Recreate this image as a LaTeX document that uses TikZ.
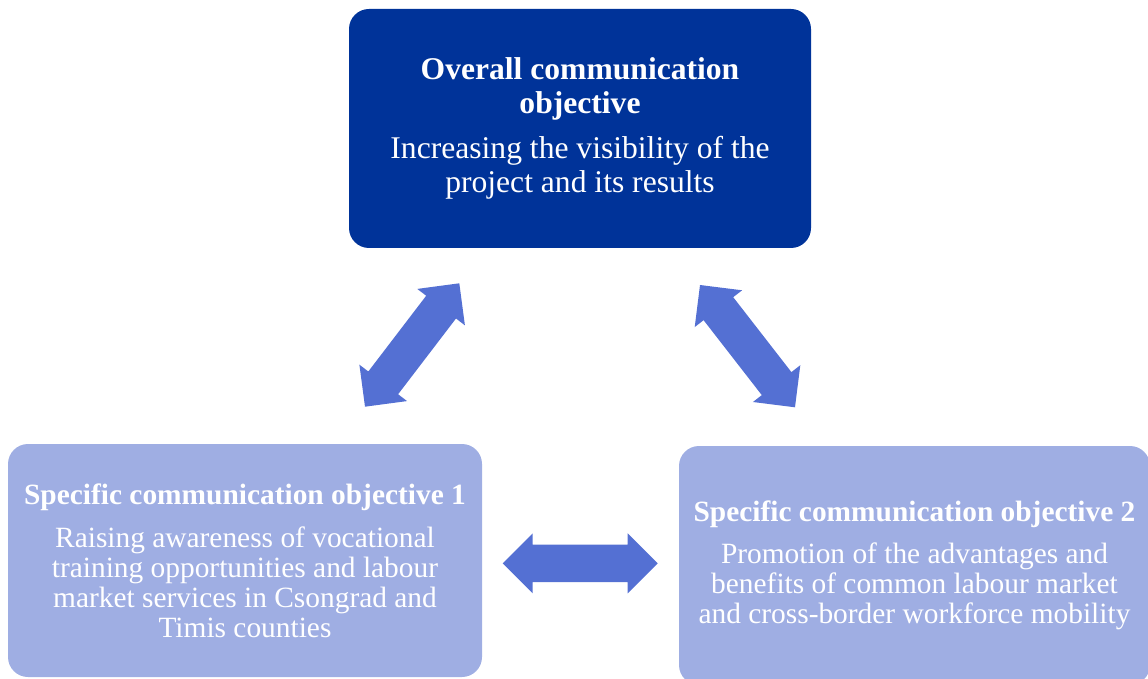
\documentclass[tikz,border=0pt]{standalone}
\usepackage{fontspec}
\setmainfont{Liberation Serif}
\usetikzlibrary{calc}

\definecolor{topblue}{HTML}{003399}
\definecolor{lightblue}{HTML}{9FAEE3}
\definecolor{arrowblue}{HTML}{5470D3}

% double-headed block arrow between two named coordinates
% head length 30pt, head half-width 30pt, shaft half-width 18.75pt
\newcommand\blockarrow[2]{%
  \fill[arrowfill]
    (#1)
    -- ($(#1)!30pt!(#2)!30pt!90:(#2)$)
    -- ($(#1)!30pt!(#2)!18.75pt!90:(#2)$)
    -- ($(#2)!30pt!(#1)!18.75pt!-90:(#1)$)
    -- ($(#2)!30pt!(#1)!30pt!-90:(#1)$)
    -- (#2)
    -- ($(#2)!30pt!(#1)!30pt!90:(#1)$)
    -- ($(#2)!30pt!(#1)!18.75pt!90:(#1)$)
    -- ($(#1)!30pt!(#2)!18.75pt!-90:(#2)$)
    -- ($(#1)!30pt!(#2)!30pt!-90:(#2)$)
    -- cycle;}

\tikzset{
  objbox/.style={rectangle, rounded corners=20pt, inner sep=0pt,
    text=white, align=center},
  topbox/.style={objbox, fill=topblue,
    font=\fontsize{31.6}{34}\selectfont},
  subbox/.style={objbox, fill=lightblue,
    font=\fontsize{29.4}{30}\selectfont},
  arrowfill/.style={fill=arrowblue},
}

\begin{document}
\begin{tikzpicture}[x=1pt,y=1pt]
  \path[use as bounding box, clip] (0,0) rectangle (1148,678);

  % objective boxes
  \node[topbox, minimum width=462pt, minimum height=239pt] (overall) at (580,549.5)
    {{\bfseries Overall communication}\\
     {\bfseries objective}\\[11pt]
     Increasing the visibility of the\\
     project and its results};

  \node[subbox, minimum width=474pt, minimum height=233pt] (spec1) at (245,117.5)
    {{\bfseries Specific communication objective 1}\\[13pt]
     Raising awareness of vocational\\
     training opportunities and labour\\
     market services in Csongrad and\\
     Timis counties};

  \node[subbox, minimum width=471pt, minimum height=239pt] (spec2) at (914.5,112.5)
    {{\bfseries Specific communication objective 2}\\[12pt]
     Promotion of the advantages and\\
     benefits of common labour market\\
     and cross-border workforce mobility};

  % arrow end points
  \coordinate (a1s) at (365,271.3);
  \coordinate (a1e) at (459.3,394.7);
  \coordinate (a2s) at (700,393);
  \coordinate (a2e) at (795,270.7);
  \coordinate (a3s) at (502.7,114.7);
  \coordinate (a3e) at (657.7,114.7);

  \blockarrow{a1s}{a1e}
  \blockarrow{a2s}{a2e}
  \blockarrow{a3s}{a3e}
\end{tikzpicture}
\end{document}
